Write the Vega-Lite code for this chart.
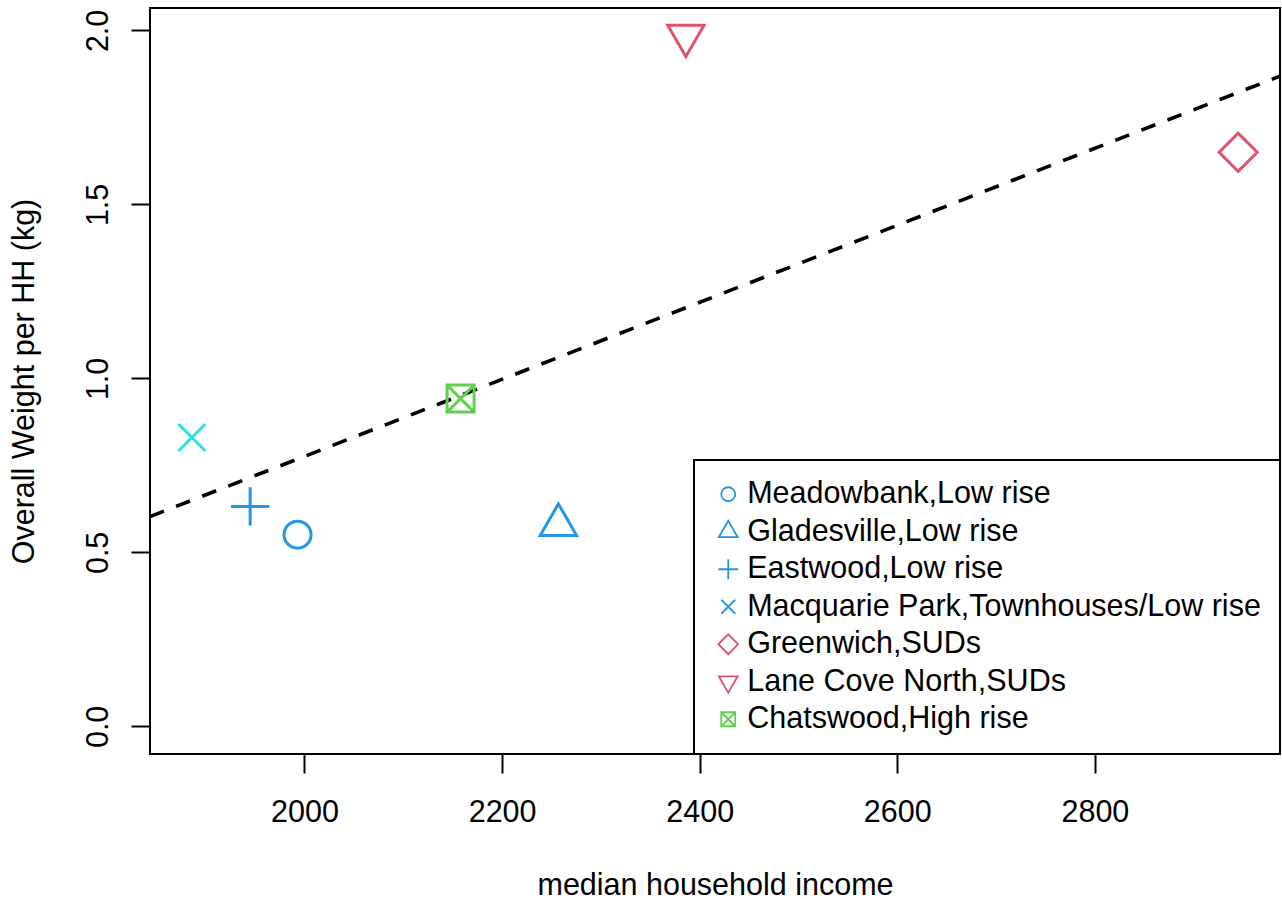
{
  "$schema": "https://vega.github.io/schema/vega-lite/v6.json",
  "width": 1130,
  "height": 746,
  "autosize": {"type": "none"},
  "padding": {"left": 150, "top": 8, "right": 2, "bottom": 145},
  "background": "white",
  "config": {
    "view": {"stroke": "black", "strokeWidth": 2},
    "font": "Liberation Sans",
    "axis": {
      "domain": false,
      "grid": false,
      "ticks": true,
      "tickSize": 19,
      "tickWidth": 2,
      "tickColor": "black",
      "labelFont": "Liberation Sans",
      "labelFontSize": 30.5,
      "labelColor": "black",
      "titleFont": "Liberation Sans",
      "titleFontSize": 30.5,
      "titleFontWeight": "normal",
      "titleColor": "black",
      "labelPadding": 24
    },
    "legend": {
      "orient": "bottom-right",
      "offset": 0,
      "padding": 19,
      "strokeColor": "black",
      "strokeWidth": 2,
      "fillColor": "white",
      "labelFont": "Liberation Sans",
      "labelFontSize": 30.5,
      "labelColor": "black",
      "labelOffset": 3.7,
      "labelLimit": 0,
      "rowPadding": 6.5,
      "symbolSize": 196,
      "symbolStrokeWidth": 1.8,
      "symbolOpacity": 1
    }
  },
  "data": {
    "values": [
      {"site": "Meadowbank,Low rise", "income": 1993, "weight": 0.551},
      {"site": "Gladesville,Low rise", "income": 2257, "weight": 0.579},
      {"site": "Eastwood,Low rise", "income": 1945, "weight": 0.632},
      {"site": "Macquarie Park,Townhouses/Low rise", "income": 1886, "weight": 0.830},
      {"site": "Greenwich,SUDs", "income": 2945, "weight": 1.650},
      {"site": "Lane Cove North,SUDs", "income": 2386, "weight": 1.985},
      {"site": "Chatswood,High rise", "income": 2158, "weight": 0.942}
    ]
  },
  "encoding": {
    "x": {
      "field": "income",
      "type": "quantitative",
      "scale": {"domain": [1843.64, 2987.36], "nice": false, "zero": false},
      "axis": {
        "values": [2000, 2200, 2400, 2600, 2800],
        "format": "d",
        "title": "median household income",
        "titleX": 565,
        "titleY": 140,
        "titleBaseline": "alphabetic",
        "titleAnchor": "middle"
      }
    },
    "y": {
      "field": "weight",
      "type": "quantitative",
      "scale": {"domain": [-0.0794, 2.0644], "nice": false, "zero": false},
      "axis": {
        "values": [0, 0.5, 1, 1.5, 2],
        "format": ".1f",
        "labelAngle": 270,
        "labelAlign": "center",
        "labelBaseline": "alphabetic",
        "title": "Overall Weight per HH (kg)",
        "titleAngle": 270,
        "titleX": -117,
        "titleY": 373,
        "titleBaseline": "alphabetic",
        "titleAlign": "center"
      }
    }
  },
  "layer": [
    {
      "transform": [
        {"regression": "weight", "on": "income", "extent": [1843.64, 2987.36]}
      ],
      "mark": {
        "type": "line",
        "color": "black",
        "strokeWidth": 3.6,
        "strokeDash": [15, 13],
        "strokeCap": "butt",
        "clip": true
      },
      "encoding": {}
    },
    {
      "mark": {"type": "point", "filled": false, "opacity": 0, "size": 196, "strokeWidth": 1.8},
      "encoding": {
        "color": {
          "field": "site",
          "type": "nominal",
          "scale": {
            "domain": ["Meadowbank,Low rise", "Gladesville,Low rise", "Eastwood,Low rise", "Macquarie Park,Townhouses/Low rise", "Greenwich,SUDs", "Lane Cove North,SUDs", "Chatswood,High rise"],
            "range": ["#2297E6", "#2297E6", "#2297E6", "#2297E6", "#DF536B", "#DF536B", "#61D04F"]
          },
          "legend": {"title": null, "encode": {"symbols": {"update": {"x": {"value": 7}}}}}
        },
        "shape": {
          "field": "site",
          "type": "nominal",
          "scale": {
            "domain": ["Meadowbank,Low rise", "Gladesville,Low rise", "Eastwood,Low rise", "Macquarie Park,Townhouses/Low rise", "Greenwich,SUDs", "Lane Cove North,SUDs", "Chatswood,High rise"],
            "range": ["circle", "M0,-1.555L1.347,0.778L-1.347,0.778Z", "M-1.414,0H1.414M0,-1.414V1.414", "M-1,-1L1,1M-1,1L1,-1", "M-1.414,0L0,-1.414L1.414,0L0,1.414Z", "M0,1.555L1.347,-0.778L-1.347,-0.778Z", "M-1,-1H1V1H-1ZM-1,-1L1,1M-1,1L1,-1"]
          },
          "legend": {"title": null, "encode": {"symbols": {"update": {"x": {"value": 7}}}}}
        }
      }
    },
    {
      "mark": {"type": "point", "filled": false, "opacity": 1, "size": 729, "strokeWidth": 3},
      "encoding": {
        "color": {
          "field": "site",
          "type": "nominal",
          "scale": {
            "domain": ["Meadowbank,Low rise", "Gladesville,Low rise", "Eastwood,Low rise", "Macquarie Park,Townhouses/Low rise", "Greenwich,SUDs", "Lane Cove North,SUDs", "Chatswood,High rise"],
            "range": ["#2297E6", "#2297E6", "#2297E6", "#28E2E5", "#DF536B", "#DF536B", "#61D04F"]
          },
          "legend": null
        },
        "shape": {
          "field": "site",
          "type": "nominal",
          "scale": {
            "domain": ["Meadowbank,Low rise", "Gladesville,Low rise", "Eastwood,Low rise", "Macquarie Park,Townhouses/Low rise", "Greenwich,SUDs", "Lane Cove North,SUDs", "Chatswood,High rise"],
            "range": ["circle", "M0,-1.555L1.347,0.778L-1.347,0.778Z", "M-1.414,0H1.414M0,-1.414V1.414", "M-1,-1L1,1M-1,1L1,-1", "M-1.414,0L0,-1.414L1.414,0L0,1.414Z", "M0,1.555L1.347,-0.778L-1.347,-0.778Z", "M-1,-1H1V1H-1ZM-1,-1L1,1M-1,1L1,-1"]
          },
          "legend": null
        }
      }
    }
  ],
  "resolve": {"scale": {"color": "independent", "shape": "independent"}, "legend": {"color": "independent", "shape": "independent"}}
}
